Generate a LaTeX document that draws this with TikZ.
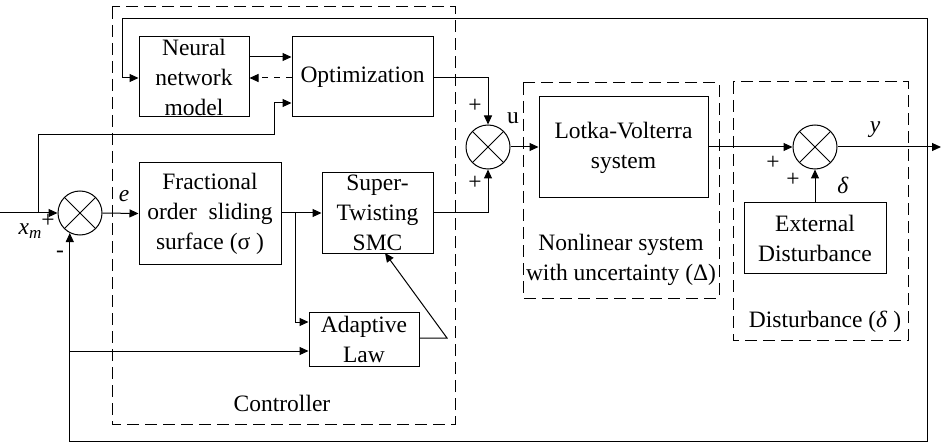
\documentclass[tikz,border=0pt]{standalone}
\usepackage{fontspec}
\setmainfont{Liberation Serif}
\usetikzlibrary{arrows.meta}

\newcommand{\lbl}{\fontsize{11.75}{15}\selectfont}

\tikzset{
  blk/.style={draw, rectangle, align=center, inner sep=0pt, font=\lbl},
  sumnode/.style={draw, circle, minimum size=22pt, inner sep=0pt,
    path picture={
      \draw ([shift={(45:11pt)}]path picture bounding box.center) -- ([shift={(225:11pt)}]path picture bounding box.center);
      \draw ([shift={(135:11pt)}]path picture bounding box.center) -- ([shift={(315:11pt)}]path picture bounding box.center);
    }},
  arr/.style={-{Triangle[length=4.5pt,width=4pt]}},
  grp/.style={draw, dash pattern=on 6pt off 3pt},
  txt/.style={font=\lbl, inner sep=0pt, align=center},
}

\begin{document}
\begin{tikzpicture}[x=0.5pt, y=-0.5pt, line width=0.5pt]
\useasboundingbox (0,0) rectangle (941,443);

% dashed group frames
\draw[grp] (112,7) rectangle (455,424);
\draw[grp] (523,83) rectangle (719,298);
\draw[grp] (733,82) rectangle (908,340);

% blocks
\node[blk, minimum width=55pt, minimum height=40pt] (nn) at (194,77) {Neural\\network\\model};
\node[blk, minimum width=70.5pt, minimum height=40pt] (opt) at (362.5,77) {Optimization};
\node[blk, minimum width=71pt, minimum height=50.5pt] (frac) at (210,213.5) {Fractional\\order\ \ sliding\\surface (σ )};
\node[blk, minimum width=55.5pt, minimum height=40pt] (st) at (377.5,213) {Super-\\Twisting\\SMC};
\node[blk, minimum width=55pt, minimum height=27pt] (al) at (364,339) {Adaptive\\Law};
\node[blk, minimum width=84.5pt, minimum height=50.5pt] (lv) at (623.5,147.5) {Lotka-Volterra\\system};
\node[blk, minimum width=71pt, minimum height=35pt] (ext) at (815,238) {External\\Disturbance};

% summing junctions
\node[sumnode] (s1) at (80,213) {};
\node[sumnode] (s2) at (488,147) {};
\node[sumnode] (s3) at (815,147) {};

% auxiliary points
\coordinate (in) at (0,213);
\coordinate (tapin) at (38,213);
\coordinate (tape) at (295,213);
\coordinate (out) at (941,147);
\coordinate (tapy) at (927,147);
\coordinate (fbin) at (s1.243);
\coordinate (fbl) at (fbin |- 0,351);

% reference input and its branch to the optimizer
\draw[arr] (in) -- (s1.west);
\draw[arr] (tapin) |- (274,135) |- (opt.west |- 0,103);

% error path
\draw[arr] (s1.east) -- (frac.west);
\draw[arr] (frac.east |- tape) -- (st.west |- tape);
\draw[arr] (tape) |- (al.west |- 0,322);

% neural network / optimization loop
\draw[arr] (nn.east |- 0,57) -- (opt.west |- 0,57);
\draw[arr, dashed] (opt.west |- 0,78) -- (nn.east |- 0,78);

% control signal
\draw[arr] (opt.east |- 0,78) -| (s2.north);
\draw[arr] (st.east |- 0,213) -| (s2.south);
\draw[arr] (s2.east) -- (lv.west |- s2);

% adaptive gain update
\draw[arr] (al.east |- 0,338) -- (447,338) -- (385,253);

% plant output and disturbance
\draw[arr] (lv.east |- s3) -- (s3.west);
\draw[arr] (ext.north) -- (s3.south);
\draw[arr] (s3.east) -- (out);

% feedback paths
\draw[arr] (tapy) |- (122,19) |- (nn.west |- 0,78);
\draw[arr] (tapy) |- (fbin |- 0,441) -- (fbin);
\draw[arr] (fbl) -- (al.west |- fbl);

% signal labels
\node[txt] at (30,231) {\textit{x}\raisebox{-0.35ex}{\fontsize{8.5}{10}\selectfont\textit{m}}};
\node[txt] at (48,221) {+};
\node[txt] at (60,254) {-};
\node[txt] at (124,196) {\textit{e}};
\node[txt] at (475,106) {+};
\node[txt] at (475,183) {+};
\node[txt] at (513,118) {u};
\node[txt] at (773,163) {+};
\node[txt] at (793,180) {+};
\node[txt] at (843,185) {\textit{δ}};
\node[txt] at (875,130) {\textit{y}};

% group captions
\node[txt] at (282,403) {Controller};
\node[txt] at (621,260) {Nonlinear system\\with uncertainty (Δ)};
\node[txt] at (825,322) {Disturbance (\textit{δ} )};
\end{tikzpicture}
\end{document}
